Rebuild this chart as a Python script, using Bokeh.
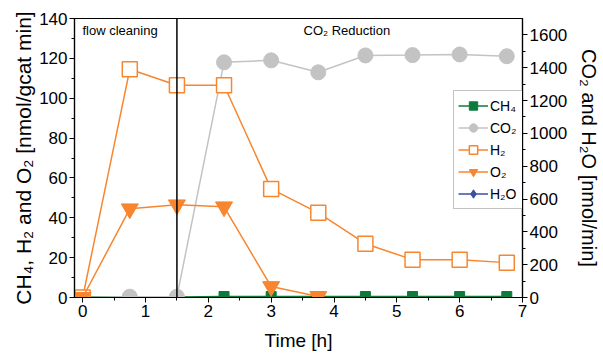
from bokeh.plotting import figure
from bokeh.models import Range1d, LinearAxis, Span, Label, Legend, LegendItem, ColumnDataSource
from bokeh.embed import file_html
from bokeh.resources import INLINE

# data
time_h = [0, 0.75, 1.5, 2.25, 3, 3.75, 4.5, 5.25, 6, 6.75]
ch4 = [0.3, 0.3, 0.3, 0.5, 0.5, 0.5, 0.5, 0.5, 0.5, 0.5]
co2 = [0, 5, 5, 1433, 1445, 1372, 1475, 1477, 1481, 1470]
h2 = [0, 114.5, 106.5, 106.5, 54.5, 42.5, 27, 19, 19, 17.5]
o2 = [0, 44.5, 46.5, 45.5, 5.5, 0.5]
o2_t = [0, 0.75, 1.5, 2.25, 3, 3.75]
h2o_t = [float("nan")]
h2o = [float("nan")]

FONT = "Liberation Sans"
ORANGE = "#f7862f"
GREY = "#c3c3c3"
GREEN = "#0f7a3c"
BLUE = "#3b4f9f"

p = figure(width=603, height=353, output_backend="svg", toolbar_location=None,
           x_range=Range1d(-0.13, 7), y_range=Range1d(0, 140),
           min_border_left=74, min_border_right=76, min_border_top=18, min_border_bottom=56)
p.extra_y_ranges = {"right": Range1d(0, 1700)}
p.grid.visible = False
p.outline_line_color = "black"
p.outline_line_width = 1.2
p.background_fill_color = "white"

laxis = p.yaxis[0]
baxis = p.xaxis[0]
baxis.ticker = list(range(0, 8))
baxis.ticker.minor_ticks = [x + 0.5 for x in range(0, 7)]
laxis.ticker = list(range(0, 141, 20))
laxis.ticker.minor_ticks = list(range(10, 140, 20))

raxis = LinearAxis(y_range_name="right", axis_label="CO₂ and H₂O [nmol/min]")
raxis.ticker = list(range(0, 1601, 200))
raxis.ticker.minor_ticks = list(range(100, 1700, 200))
p.add_layout(raxis, "right")

baxis.axis_label = "Time [h]"
laxis.axis_label = "CH₄, H₂ and O₂ [nmol/gcat min]"

for ax in [baxis, laxis, raxis]:
    ax.axis_line_color = "black"
    ax.axis_line_width = 1.2
    ax.major_tick_in = 0
    ax.major_tick_out = 5
    ax.minor_tick_in = 0
    ax.minor_tick_out = 3
    ax.major_tick_line_color = "black"
    ax.minor_tick_line_color = "black"
    ax.major_label_text_font = FONT
    ax.major_label_text_font_size = "17px"
    ax.major_label_text_color = "black"
    ax.axis_label_text_font = FONT
    ax.axis_label_text_font_style = "normal"
    ax.axis_label_text_font_size = "20px"
    ax.axis_label_text_color = "black"
    ax.major_label_standoff = 2
baxis.axis_label_text_font_size = "19px"
laxis.axis_label_text_font_size = "21px"
baxis.axis_label_standoff = 10
laxis.axis_label_standoff = 1
raxis.axis_label_standoff = 8

# series
r_ch4_l = p.line(time_h, ch4, line_color=GREEN, line_width=1.5)
r_ch4_m = p.scatter(time_h, ch4, marker="square", size=10, fill_color=GREEN, line_color=GREEN)
r_co2_l = p.line(time_h, co2, line_color=GREY, line_width=1.5, y_range_name="right")
r_co2_m = p.scatter(time_h, co2, marker="circle", size=15, fill_color=GREY, line_color=GREY, y_range_name="right")
r_h2_l = p.line(time_h, h2, line_color=ORANGE, line_width=1.5)
r_h2_m = p.scatter(time_h, h2, marker="square", size=15, fill_color="white", line_color=ORANGE, line_width=1.5)
r_o2_l = p.line(o2_t, o2, line_color=ORANGE, line_width=1.5)
r_o2_m = p.scatter(o2_t, o2, marker="inverted_triangle", size=17, fill_color=ORANGE, line_color=ORANGE)
h2o_src = ColumnDataSource(dict(x=h2o_t, y=h2o))
r_h2o_l = p.line("x", "y", source=h2o_src, line_color=BLUE, line_width=1.5, y_range_name="right")
r_h2o_m = p.scatter("x", "y", source=h2o_src, marker="diamond", size=17, fill_color=BLUE, line_color=BLUE, y_range_name="right")

p.add_layout(Span(location=1.5, dimension="height", line_color="black", line_width=1.5))

p.add_layout(Label(x=8, y=275, x_units="screen", y_units="screen", text="flow cleaning",
                   text_font=FONT, text_font_size="13px", text_baseline="top", text_color="black"))
p.add_layout(Label(x=229, y=275, x_units="screen", y_units="screen", text="CO₂ Reduction",
                   text_font=FONT, text_font_size="13px", text_baseline="top", text_color="black"))

legend = Legend(items=[
    LegendItem(label="CH₄", renderers=[r_ch4_l, r_ch4_m]),
    LegendItem(label="CO₂", renderers=[r_co2_l, r_co2_m]),
    LegendItem(label="H₂", renderers=[r_h2_l, r_h2_m]),
    LegendItem(label="O₂", renderers=[r_o2_l, r_o2_m]),
    LegendItem(label="H₂O", renderers=[r_h2o_l, r_h2o_m]),
], location=(379, 88))
legend.label_text_font = FONT
legend.label_text_font_size = "14px"
legend.label_text_color = "black"
legend.label_width = 30
legend.glyph_width = 30
legend.glyph_height = 21
legend.spacing = 1
legend.padding = 4
legend.margin = 0
legend.label_standoff = 2
legend.border_line_color = "#888888"
legend.border_line_width = 1
legend.background_fill_alpha = 1
p.add_layout(legend)

open("out.html", "w").write(file_html(p, INLINE))
